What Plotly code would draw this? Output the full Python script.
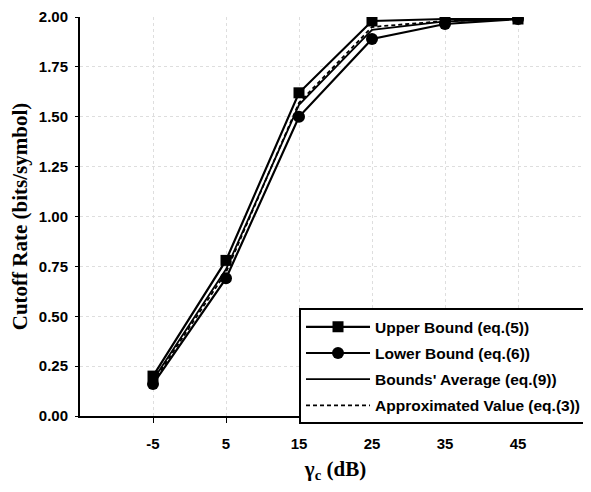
import plotly.graph_objects as go

gamma_db = [-5, 5, 15, 25, 35, 45]
upper_bound = [0.20, 0.78, 1.62, 1.98, 1.99, 1.99]
lower_bound = [0.16, 0.69, 1.50, 1.89, 1.965, 1.99]
bounds_average = [0.18, 0.735, 1.56, 1.935, 1.978, 1.99]
approx_value = [0.17, 0.72, 1.57, 1.95, 1.98, 1.99]
y_ticks = [0, 0.25, 0.5, 0.75, 1.0, 1.25, 1.5, 1.75, 2.0]

fig = go.Figure()
fig.add_trace(go.Scatter(x=gamma_db, y=upper_bound, mode="lines+markers",
                         name="Upper Bound (eq.(5))", legendgroup="a",
                         line=dict(color="black", width=2.2),
                         marker=dict(symbol="square", size=11, color="black")))
fig.add_trace(go.Scatter(x=gamma_db, y=lower_bound, mode="lines+markers",
                         name="Lower Bound (eq.(6))", legendgroup="b",
                         line=dict(color="black", width=2.2),
                         marker=dict(symbol="circle", size=12, color="black")))
fig.add_trace(go.Scatter(x=gamma_db, y=bounds_average, mode="lines",
                         name="Bounds' Average (eq.(9))", legendgroup="c",
                         line=dict(color="black", width=1.8)))
fig.add_trace(go.Scatter(x=gamma_db, y=approx_value, mode="lines",
                         name="Approximated Value (eq.(3))", legendgroup="d",
                         line=dict(color="black", width=1.8, dash="4px,3px")))

tick_font = dict(family="Liberation Sans", size=15, color="black", weight="bold")
title_font = dict(family="Liberation Serif", size=21, color="black", weight="bold")

fig.update_layout(
    width=583, height=484,
    margin=dict(l=72, r=0, t=5, b=76),
    paper_bgcolor="white", plot_bgcolor="white",
    showlegend=True,
    legend=dict(x=0.4286, y=0.27, xanchor="left", yanchor="top",
                bgcolor="white", bordercolor="black", borderwidth=2,
                font=dict(family="Liberation Sans", size=15.5, color="black", weight="bold"),
                itemwidth=64, tracegroupgap=3),
    xaxis=dict(range=[-15, 55], tickvals=gamma_db, ticktext=[str(v) for v in gamma_db],
               showline=True, linecolor="black", linewidth=2,
               ticks="outside", ticklen=5, tickcolor="black", ticklabelstandoff=8,
               showgrid=True, gridcolor="#dedede", griddash="dot", gridwidth=1,
               zeroline=False, tickfont=tick_font,
               title=dict(text="γ<sub>c</sub> (dB)", font=title_font, standoff=10)),
    yaxis=dict(range=[0, 2], tickvals=y_ticks, tickformat=".2f",
               showline=True, linecolor="black", linewidth=2,
               ticks="outside", ticklen=3, tickcolor="black", ticklabelstandoff=4,
               ticklabeloverflow="allow",
               showgrid=True, gridcolor="#dedede", griddash="dot", gridwidth=1,
               zeroline=False, tickfont=tick_font,
               title=dict(text="Cutoff Rate (bits/symbol)", font=title_font, standoff=6)),
)

fig.write_html("out.html")
